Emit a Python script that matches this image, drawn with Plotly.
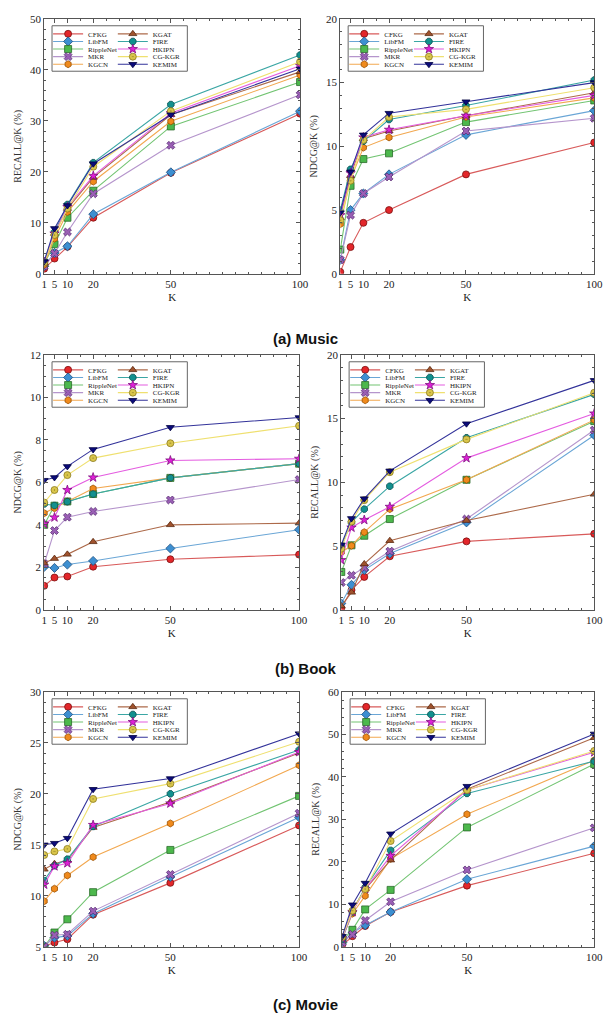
import plotly.graph_objects as go

W, H = 616, 1022

K = [1, 5, 10, 20, 50, 100]

methods = ["CFKG", "LibFM", "RippleNet", "MKR", "KGCN",
           "KGAT", "FIRE", "HKIPN", "CG-KGR", "KEMIM"]

# ---- (a) Music ----
music_recall = {
    "CFKG":      [1.0, 3.0, 5.3, 11.0, 19.8, 31.4],
    "LibFM":     [1.5, 4.1, 5.4, 11.7, 19.9, 31.9],
    "RippleNet": [2.0, 5.8, 11.0, 16.3, 28.9, 37.6],
    "MKR":       [1.5, 4.0, 8.2, 15.7, 25.2, 35.1],
    "KGCN":      [1.8, 6.9, 12.1, 18.1, 29.9, 39.0],
    "KGAT":      [2.2, 7.9, 12.8, 18.9, 31.2, 39.6],
    "FIRE":      [2.5, 8.2, 13.6, 21.8, 33.2, 42.9],
    "HKIPN":     [2.3, 7.9, 13.1, 19.2, 31.5, 40.8],
    "CG-KGR":    [2.2, 7.6, 12.8, 21.0, 31.9, 41.6],
    "KEMIM":     [2.4, 8.9, 13.4, 21.6, 31.2, 40.2],
}
music_ndcg = {
    "CFKG":      [0.15, 2.1, 4.0, 5.0, 7.8, 10.3],
    "LibFM":     [1.1, 5.0, 6.3, 7.8, 10.9, 12.8],
    "RippleNet": [1.9, 6.9, 9.0, 9.45, 11.9, 13.6],
    "MKR":       [1.1, 4.6, 6.3, 7.6, 11.2, 12.2],
    "KGCN":      [3.9, 7.4, 9.9, 10.7, 12.3, 13.8],
    "KGAT":      [4.4, 7.7, 10.6, 11.2, 12.4, 14.2],
    "FIRE":      [5.0, 8.2, 10.4, 12.1, 13.2, 15.2],
    "HKIPN":     [4.6, 7.9, 10.7, 11.3, 12.4, 14.0],
    "CG-KGR":    [4.2, 7.3, 10.5, 12.3, 12.9, 14.6],
    "KEMIM":     [4.8, 8.0, 10.9, 12.6, 13.5, 15.0],
}
# ---- (b) Book ----
book_ndcg = {
    "CFKG":      [1.13, 1.52, 1.57, 2.03, 2.38, 2.60],
    "LibFM":     [2.02, 1.97, 2.13, 2.30, 2.89, 3.77],
    "RippleNet": [4.00, 4.90, 5.10, 5.45, 6.21, 6.88],
    "MKR":       [2.17, 3.73, 4.36, 4.63, 5.17, 6.13],
    "KGCN":      [4.55, 4.78, 5.10, 5.71, 6.21, 6.88],
    "KGAT":      [2.20, 2.41, 2.61, 3.20, 4.00, 4.08],
    "FIRE":      [4.98, 4.91, 5.09, 5.45, 6.21, 6.88],
    "HKIPN":     [4.04, 4.35, 5.64, 6.23, 7.03, 7.11],
    "CG-KGR":    [5.05, 5.64, 6.34, 7.14, 7.84, 8.66],
    "KEMIM":     [6.10, 6.23, 6.75, 7.55, 8.59, 9.05],
}
book_recall = {
    "CFKG":      [0.13, 1.55, 2.58, 4.20, 5.37, 5.96],
    "LibFM":     [0.50, 1.96, 3.12, 4.41, 6.86, 13.70],
    "RippleNet": [2.97, 5.06, 5.81, 7.12, 10.20, 14.80],
    "MKR":       [2.14, 2.71, 3.30, 4.60, 7.12, 14.10],
    "KGCN":      [4.52, 5.03, 6.09, 7.90, 10.20, 14.90],
    "KGAT":      [0.30, 1.37, 3.60, 5.42, 7.00, 9.06],
    "FIRE":      [5.00, 6.86, 7.90, 9.70, 13.50, 16.90],
    "HKIPN":     [3.90, 6.45, 7.05, 8.08, 11.90, 15.40],
    "CG-KGR":    [4.80, 6.92, 8.60, 10.80, 13.37, 17.03],
    "KEMIM":     [5.10, 7.17, 8.72, 10.90, 14.60, 18.00],
}
# ---- (c) Movie ----
movie_ndcg = {
    "CFKG":      [5.05, 5.42, 5.75, 8.15, 11.27, 16.9],
    "LibFM":     [5.10, 5.90, 6.07, 8.25, 11.85, 17.7],
    "RippleNet": [5.00, 6.40, 7.70, 10.36, 14.50, 19.8],
    "MKR":       [5.00, 6.14, 6.23, 8.50, 12.10, 18.1],
    "KGCN":      [9.48, 10.70, 12.00, 13.80, 17.10, 22.8],
    "KGAT":      [12.60, 13.15, 13.50, 16.70, 19.20, 24.0],
    "FIRE":      [11.50, 12.95, 13.60, 16.80, 20.00, 24.3],
    "HKIPN":     [11.10, 12.90, 13.20, 16.95, 19.06, 24.1],
    "CG-KGR":    [14.00, 14.35, 14.60, 19.50, 21.00, 25.1],
    "KEMIM":     [15.00, 15.16, 15.65, 20.45, 21.50, 25.9],
}
movie_recall = {
    "CFKG":      [0.4, 2.5, 4.9, 8.2, 14.4, 22.0],
    "LibFM":     [1.0, 3.3, 5.1, 8.2, 15.9, 23.7],
    "RippleNet": [1.5, 4.0, 8.8, 13.4, 28.1, 43.0],
    "MKR":       [1.0, 2.9, 6.2, 10.6, 18.1, 28.0],
    "KGCN":      [2.0, 7.8, 12.0, 20.7, 31.2, 43.9],
    "KGAT":      [2.2, 8.7, 13.6, 20.4, 37.1, 49.2],
    "FIRE":      [1.8, 8.2, 14.0, 22.7, 36.1, 43.7],
    "HKIPN":     [2.0, 8.2, 13.6, 21.4, 36.9, 45.8],
    "CG-KGR":    [2.3, 8.5, 13.6, 24.9, 36.9, 46.1],
    "KEMIM":     [2.5, 9.9, 15.0, 26.6, 37.8, 50.1],
}

panels = [music_recall, music_ndcg, book_ndcg, book_recall, movie_ndcg, movie_recall]
ytitles = ["RECALL@K (%)", "NDCG@K (%)", "NDCG@K (%)", "RECALL@K (%)", "NDCG@K (%)", "RECALL@K (%)"]
yranges = [[0, 50], [0, 20], [0, 12], [0, 20], [5, 30], [0, 60]]
ydticks = [10, 5, 2, 5, 5, 10]
yminor = [2, 1, 0.5, 1, 1, 2]
captions = ["(a) Music", "(b) Book", "(c) Movie"]
caption_px = [336, 670, 1010]

style = {
    "CFKG":      dict(sym="circle",        fill="#e3262a", edge="#7a1010", line="#d85a5a"),
    "LibFM":     dict(sym="diamond",       fill="#3d8fd1", edge="#1d4f80", line="#6aa6d6"),
    "RippleNet": dict(sym="square",        fill="#4cb84c", edge="#2a6a2a", line="#72c472"),
    "MKR":       dict(sym="x",             fill="#9a5fb5", edge="#5a2f75", line="#b595cc"),
    "KGCN":      dict(sym="hexagon",       fill="#f08a1c", edge="#9a5000", line="#f2a850"),
    "KGAT":      dict(sym="triangle-up",   fill="#a0522d", edge="#5a2a10", line="#ad6a4a"),
    "FIRE":      dict(sym="octagon",       fill="#12908e", edge="#0a5050", line="#3aa6a4"),
    "HKIPN":     dict(sym="star",          fill="#e020d8", edge="#801080", line="#e45ce0"),
    "CG-KGR":    dict(sym="circle-dot",    fill="#d9c54a", edge="#8a7a20", line="#efe070"),
    "KEMIM":     dict(sym="triangle-down", fill="#0b0b7a", edge="#000040", line="#33339a"),
}

# pixel geometry of the six plot areas (left, top, right, bottom)
boxes = [(42, 13, 303, 271), (344, 13, 603, 271),
         (42, 353, 302, 611), (345, 353, 603, 611),
         (42, 694, 302, 952), (346, 694, 603, 952)]

fig = go.Figure()
layout = {}
shapes = []
serif = "Liberation Serif"
ROW = 7.6  # legend row pitch (px)

for i, (data, box) in enumerate(zip(panels, boxes)):
    n = i + 1
    xa = "x" if n == 1 else f"x{n}"
    ya = "y" if n == 1 else f"y{n}"
    legL = "legend" if n == 1 else f"legend{2 * n - 1}"
    legR = f"legend{2 * n}"
    for j, m in enumerate(methods):
        s = style[m]
        fig.add_trace(go.Scatter(
            x=K, y=data[m], name=m, mode="lines+markers",
            xaxis=xa, yaxis=ya,
            legend=legL if j < 5 else legR,
            line=dict(color=s["line"], width=1.1),
            marker=dict(symbol=s["sym"], size=7, color=s["fill"],
                        line=dict(color=s["edge"], width=0.8)),
        ))
    l, t, r, b = box
    axx = "xaxis" if n == 1 else f"xaxis{n}"
    axy = "yaxis" if n == 1 else f"yaxis{n}"
    common = dict(showline=True, linecolor="#555", linewidth=1, mirror="allticks",
                  ticks="inside", ticklen=4, tickcolor="#555", showgrid=False, zeroline=False,
                  tickfont=dict(family=serif, size=11, color="#222"))
    layout[axx] = dict(common, domain=[l / W, r / W], anchor=ya, range=[1, 100],
                       tickmode="array", tickvals=K, ticktext=[str(k) for k in K],
                       minor=dict(ticks="inside", ticklen=2, dtick=5, tick0=0, tickcolor="#555"),
                       title=dict(text="K", font=dict(family=serif, size=11, color="#222"), standoff=4))
    layout[axy] = dict(common, domain=[1 - b / H, 1 - t / H], anchor=xa, range=yranges[i],
                       dtick=ydticks[i], tick0=0,
                       minor=dict(ticks="inside", ticklen=2, dtick=yminor[i], tick0=0, tickcolor="#555"),
                       title=dict(text=ytitles[i], font=dict(family=serif, size=10, color="#333"), standoff=6))
    # legend frame and two legend columns
    fx, fy = l + 8, t + 7
    fw, fh = 138, 46
    shapes.append(dict(type="rect", xref="paper", yref="paper", layer="above",
                       x0=fx / W, x1=(fx + fw) / W, y0=1 - (fy + fh) / H, y1=1 - fy / H,
                       line=dict(color="#666", width=1), fillcolor="white"))
    legcommon = dict(orientation="v", xanchor="left", yanchor="top", bgcolor="rgba(0,0,0,0)",
                     borderwidth=0, font=dict(family=serif, size=7, color="#222"),
                     itemwidth=30, tracegroupgap=0, xref="paper", yref="paper")
    ly = 1 - (fy + 8 - 14.5) / H
    layout[legL] = dict(legcommon, x=(fx - 4) / W, y=ly)
    layout[legR] = dict(legcommon, x=(fx + 62) / W, y=ly)

annotations = []
for cap, py in zip(captions, caption_px):
    annotations.append(dict(text="<b>" + cap + "</b>", x=0.5, y=1 - py / H,
                            xref="paper", yref="paper",
                            showarrow=False, xanchor="center", yanchor="middle",
                            font=dict(family="Liberation Sans", size=15, color="#111")))

fig.update_layout(layout)
fig.update_layout(width=W, height=H, margin=dict(l=0, r=0, t=0, b=0),
                  plot_bgcolor="white", paper_bgcolor="white", showlegend=True,
                  shapes=shapes, annotations=annotations)

post_js = """
document.body.style.margin = '0';
document.body.style.padding = '0';
var gd = document.getElementById('{plot_id}');
function squeezeLegends() {
  var groups = gd.querySelectorAll('g');
  groups.forEach(function (lg) {
    var cls = lg.getAttribute('class') || '';
    if (!/^legend\\d*$/.test(cls)) return;
    var items = lg.querySelectorAll('g.traces');
    if (!items.length) return;
    var t = items[0].getAttribute('transform') || '';
    var m = /translate\\(\\s*([-\\d.e]+)[\\s,]+([-\\d.e]+)\\s*\\)/.exec(t);
    if (!m) return;
    var x = parseFloat(m[1]), y0 = parseFloat(m[2]);
    for (var k = 0; k < items.length; k++) {
      items[k].setAttribute('transform', 'translate(' + x + ',' + (y0 + k * ROWPX) + ')');
    }
  });
}
squeezeLegends();
gd.on('plotly_afterplot', squeezeLegends);
""".replace("ROWPX", str(ROW))

fig.write_html("out.html", post_script=post_js, config={"displayModeBar": False})
